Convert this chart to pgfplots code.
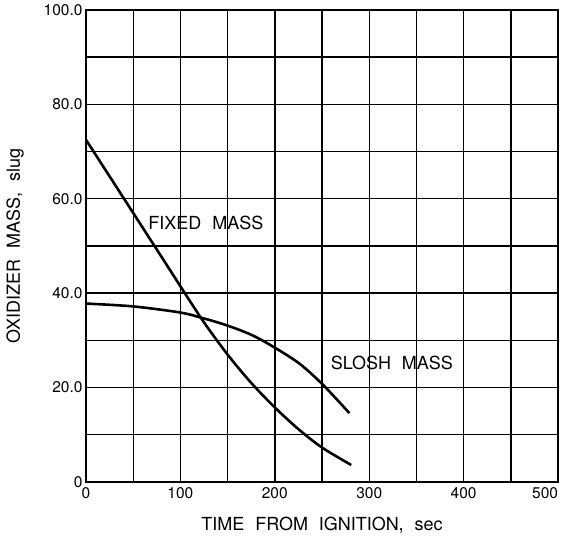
\documentclass[border=0pt]{standalone}
\usepackage{fontspec}
\setmainfont{TeX Gyre Heros}
\usepackage{pgfplots}
\pgfplotsset{compat=1.18}

\begin{document}
\begin{tikzpicture}
% fix the page to the reference's frame (1px = 1pt)
\path[use as bounding box] (-86pt,-63pt) rectangle (475pt,482pt);
\begin{axis}[
    scale only axis,
    width=472pt,
    height=472pt,
    xmin=0, xmax=500,
    ymin=0, ymax=100,
    xtick={0,50,...,500},
    xticklabels={0,,100,,200,,300,,400,,\makebox[0pt][r]{500}},
    ytick={0,10,...,100},
    yticklabels={0,,20.0,,40.0,,60.0,,80.0,,100.0},
    major tick length=0pt,
    grid=major,
    grid style={black, line width=1.4pt},
    axis line style={black, line width=2.2pt},
    ticklabel style={font=\fontsize{15.5}{18}\selectfont},
    xticklabel style={yshift=-2pt},
    label style={font=\fontsize{18}{21}\selectfont},
    xlabel={TIME\hspace{0.6em}FROM\hspace{0.6em}IGNITION,\hspace{0.6em}sec},
    ylabel={OXIDIZER\hspace{0.6em}MASS,\hspace{0.6em}slug},
    xlabel style={at={(axis description cs:0.5,-0.0911)}, anchor=center},
    ylabel style={at={(axis description cs:-0.1504,0.5)}, anchor=center},
  ]
  % fixed mass
  \addplot[black, line width=2.6pt, smooth, tension=0.5] coordinates {
    (0,72.5)
    (40,60.1)
    (80,47.7)
    (122,34.7)
    (150,27.0)
    (175,21.0)
    (200,15.8)
    (225,11.2)
    (250,7.3)
    (281,3.6)
  };
  % slosh mass
  \addplot[black, line width=2.6pt, smooth] coordinates {
    (0,37.8)
    (50,37.2)
    (100,35.9)
    (124,34.7)
    (149,33.2)
    (175,31.2)
    (198,28.7)
    (226,25.1)
    (251,20.6)
    (279,14.6)
  };
  \node[font=\fontsize{18}{21}\selectfont] at (axis cs:127,54.9) {FIXED\hspace{0.6em}MASS};
  \node[font=\fontsize{18}{21}\selectfont] at (axis cs:324,25.2) {SLOSH\hspace{0.6em}MASS};
\end{axis}
\end{tikzpicture}
\end{document}
